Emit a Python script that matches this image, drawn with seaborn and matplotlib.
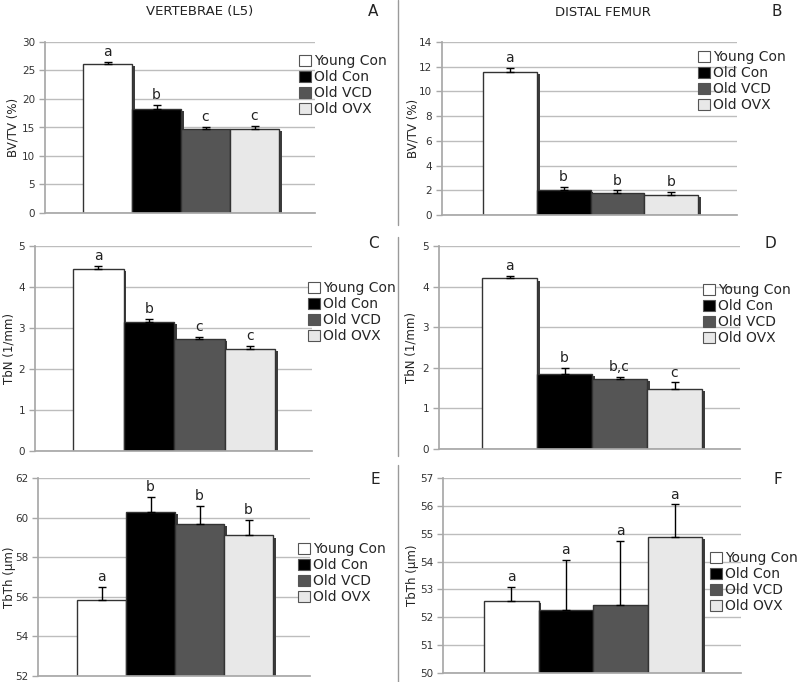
# bone microarchitecture bars - vertebrae vs distal femur
# six panels, two columns, same four groups everywhere

import matplotlib
matplotlib.use("Agg")
import matplotlib.pyplot as plt
import matplotlib.patheffects as pe
from matplotlib.lines import Line2D
from matplotlib.patches import Patch
import seaborn as sns

GROUPS = ["Young Con", "Old Con", "Old VCD", "Old OVX"]
COLORS = ["#ffffff", "#000000", "#555555", "#e8e8e8"]

# vertebrae (L5)
bvtv_vert = [26.1, 18.3, 14.7, 14.8]
bvtv_vert_err = [0.4, 0.7, 0.45, 0.5]
bvtv_vert_sig = ["a", "b", "c", "c"]

tbn_vert = [4.45, 3.15, 2.73, 2.48]
tbn_vert_err = [0.06, 0.08, 0.06, 0.08]
tbn_vert_sig = ["a", "b", "c", "c"]

tbth_vert = [55.85, 60.3, 59.7, 59.1]
tbth_vert_err = [0.65, 0.75, 0.9, 0.8]
tbth_vert_sig = ["a", "b", "b", "b"]

# distal femur
bvtv_fem = [11.55, 2.0, 1.75, 1.65]
bvtv_fem_err = [0.35, 0.25, 0.25, 0.2]
bvtv_fem_sig = ["a", "b", "b", "b"]

tbn_fem = [4.2, 1.85, 1.72, 1.48]
tbn_fem_err = [0.06, 0.15, 0.06, 0.16]
tbn_fem_sig = ["a", "b", "b,c", "c"]

tbth_fem = [52.6, 52.25, 52.45, 54.9]
tbth_fem_err = [0.5, 1.8, 2.3, 1.15]
tbth_fem_sig = ["a", "a", "a", "a"]

W, H = 797, 682


def fx(px):
    return px / W


def fy(py):
    return 1 - py / H


# (values, err, sig, ylabel, ymin, ymax, ystep, letter,
#  axes px (x0, x1, ytop, ybot), bars px (b0, b1), ylabel right edge px, legend px (x, ytop))
panels = [
    (bvtv_vert, bvtv_vert_err, bvtv_vert_sig, "BV/TV (%)", 0, 30, 5, "A",
     (45, 315, 42, 213), (83, 279), 20, (299, 54)),
    (bvtv_fem, bvtv_fem_err, bvtv_fem_sig, "BV/TV (%)", 0, 14, 2, "B",
     (442, 737, 42, 215), (483, 698), 419, (698, 50)),
    (tbn_vert, tbn_vert_err, tbn_vert_sig, "TbN (1/mm)", 0, 5, 1, "C",
     (35, 312, 246, 451), (73, 275), 16, (308, 281)),
    (tbn_fem, tbn_fem_err, tbn_fem_sig, "TbN (1/mm)", 0, 5, 1, "D",
     (439, 740, 246, 449), (482, 702), 417, (703, 283)),
    (tbth_vert, tbth_vert_err, tbth_vert_sig, "TbTh (\u00b5m)", 52, 62, 2, "E",
     (38, 310, 478, 676), (77, 273), 16, (298, 542)),
    (tbth_fem, tbth_fem_err, tbth_fem_sig, "TbTh (\u00b5m)", 50, 57, 1, "F",
     (443, 741, 478, 673), (484, 702), 419, (710, 551)),
]

letter_pos = {"A": (373, 12), "B": (777, 12), "C": (373, 244),
              "D": (770, 244), "E": (375, 479), "F": (778, 479)}


def main():
    sns.set_theme(style="white")
    plt.rcParams["font.family"] = ["DejaVu Sans"]

    fig = plt.figure(figsize=(W / 100, H / 100), dpi=100)

    for (vals, errs, sig, ylab, ymin, ymax, ystep, letter,
         box, bars, lab_x, leg) in panels:
        x0, x1, yt, yb = box
        ax = fig.add_axes([fx(x0), fy(yb), fx(x1 - x0), (yb - yt) / H])

        sns.barplot(x=GROUPS, y=vals, hue=GROUPS, palette=COLORS, order=GROUPS,
                    hue_order=GROUPS, width=1.0, edgecolor="#333333",
                    linewidth=1.0, legend=False, ax=ax, zorder=2)
        for p in ax.patches:
            p.set_path_effects([pe.SimplePatchShadow(offset=(2, -1.5),
                                                     shadow_rgbFace="#3c3c3c",
                                                     alpha=1.0),
                                pe.Normal()])

        xs = list(range(len(GROUPS)))
        ax.errorbar(xs, vals, yerr=[[0] * len(vals), errs], fmt="none",
                    ecolor="black", elinewidth=1, capsize=3, capthick=1, zorder=3)
        for i, s in enumerate(sig):
            ax.annotate(s, (i, vals[i] + errs[i]), xytext=(0, 2),
                        textcoords="offset points", ha="center", va="bottom",
                        fontsize=10, color="#222222")

        # map bar block onto the pixel span
        b0, b1 = bars
        per = (b1 - b0) / 4.0
        ax.set_xlim(-0.5 - (b0 - x0) / per, 3.5 + (x1 - b1) / per)
        ax.set_ylim(ymin, ymax)
        ax.set_yticks(range(ymin, ymax + 1, ystep))
        ax.set_xticks([])
        ax.set_xlabel("")

        ax.yaxis.grid(True, color="#bdbdbd", linewidth=1)
        ax.set_axisbelow(True)
        for side in ["top", "right"]:
            ax.spines[side].set_visible(False)
        ax.spines["left"].set_color("#a8a8a8")
        ax.spines["bottom"].set_color("#a8a8a8")
        ax.tick_params(axis="y", length=4, width=1, color="#a8a8a8",
                       labelsize=7.5, labelcolor="#333333", pad=3, left=True)

        ax.set_ylabel(ylab, fontsize=8.5, color="#222222")
        ax.yaxis.set_label_coords((lab_x - x0) / (x1 - x0), 0.5)

        lx, ly = leg
        handles = [Patch(facecolor=c, edgecolor="#555555", linewidth=0.8) for c in COLORS]
        fig.legend(handles, GROUPS, loc="upper left",
                   bbox_to_anchor=(fx(lx), fy(ly)), frameon=False, fontsize=10,
                   handlelength=0.85, handleheight=0.85, handletextpad=0.25,
                   labelspacing=0.15, borderpad=0, borderaxespad=0)

    fig.text(fx(200), fy(12), "VERTEBRAE (L5)", ha="center", va="center",
             fontsize=9.5, color="#222222")
    fig.text(fx(603), fy(12), "DISTAL FEMUR", ha="center", va="center",
             fontsize=9.5, color="#222222")
    for k, (px, py) in letter_pos.items():
        fig.text(fx(px), fy(py), k, ha="center", va="center", fontsize=11,
                 color="#222222")

    # column divider, broken between rows
    for ya, yb2 in [(0, 225), (237, 456), (465, 682)]:
        fig.add_artist(Line2D([fx(398), fx(398)], [fy(ya), fy(yb2)],
                              color="#9a9a9a", linewidth=1))

    fig.savefig("out.png", dpi=100, facecolor="white")
    plt.close(fig)


if __name__ == "__main__":
    main()
